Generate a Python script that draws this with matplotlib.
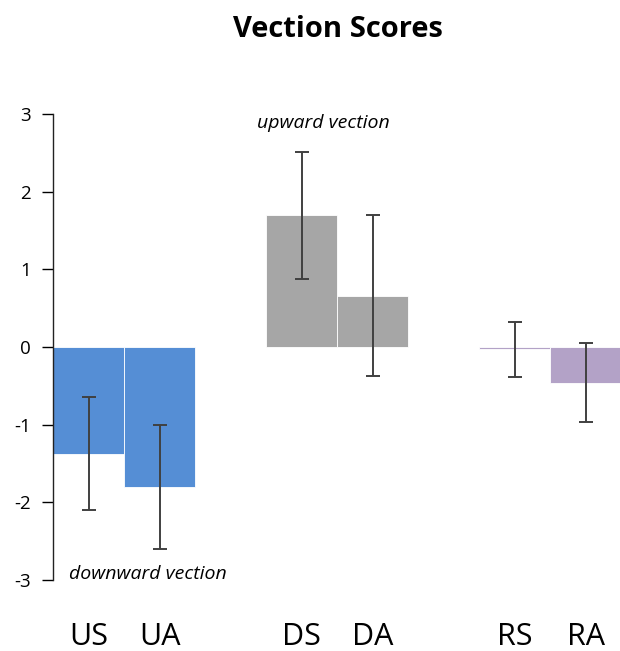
import numpy as np
import matplotlib.pyplot as plt

plt.rcParams['font.family'] = ['Open Sans', 'DejaVu Sans']

# data
labels = ['US', 'UA', 'DS', 'DA', 'RS', 'RA']
scores = [-1.38, -1.80, 1.70, 0.66, -0.03, -0.46]
err_hi = [-0.64, -1.00, 2.51, 1.70, 0.32, 0.05]
err_lo = [-2.10, -2.60, 0.88, -0.37, -0.38, -0.97]
colors = ['#558ed5', '#558ed5', '#a6a6a6', '#a6a6a6', '#b3a2c7', '#b3a2c7']

x = np.array([0, 1, 3, 4, 6, 7])
scores = np.array(scores)
yerr = [scores - np.array(err_lo), np.array(err_hi) - scores]

fig = plt.figure(figsize=(6.2, 6.51), dpi=100)
ax = fig.add_axes([0.0855, 0.109, 0.917, 0.716])

ax.bar(x, scores, width=1.0, color=colors, edgecolor='white', linewidth=0.6)
ax.errorbar(x, scores, yerr=yerr, fmt='none', ecolor='#404040',
            elinewidth=1.4, capsize=5, capthick=1.4)

ax.set_xlim(-0.5, 7.5)
ax.set_ylim(-3, 3)
ax.set_yticks([-3, -2, -1, 0, 1, 2, 3])
ax.set_yticklabels(['-3', '-2', '-1', '0', '1', '2', '3'])
ax.set_xticks(x)
ax.set_xticklabels(labels, fontsize=22)

for s in ['top', 'right', 'bottom']:
    ax.spines[s].set_visible(False)
ax.spines['left'].set_color('#222222')
ax.spines['left'].set_linewidth(1.0)
ax.tick_params(axis='x', bottom=False, pad=27)
ax.tick_params(axis='y', length=8, width=1.0, labelsize=13.5, pad=8)

ax.text(3.3, 2.88, 'upward vection', style='italic', fontsize=14,
        ha='center', va='center')
ax.text(0.84, -2.92, 'downward vection', style='italic', fontsize=14,
        ha='center', va='center')

fig.text(0.545, 0.955, 'Vection Scores', fontsize=21, fontweight='bold',
         ha='center', va='center')

fig.savefig('out.png', dpi=100)
